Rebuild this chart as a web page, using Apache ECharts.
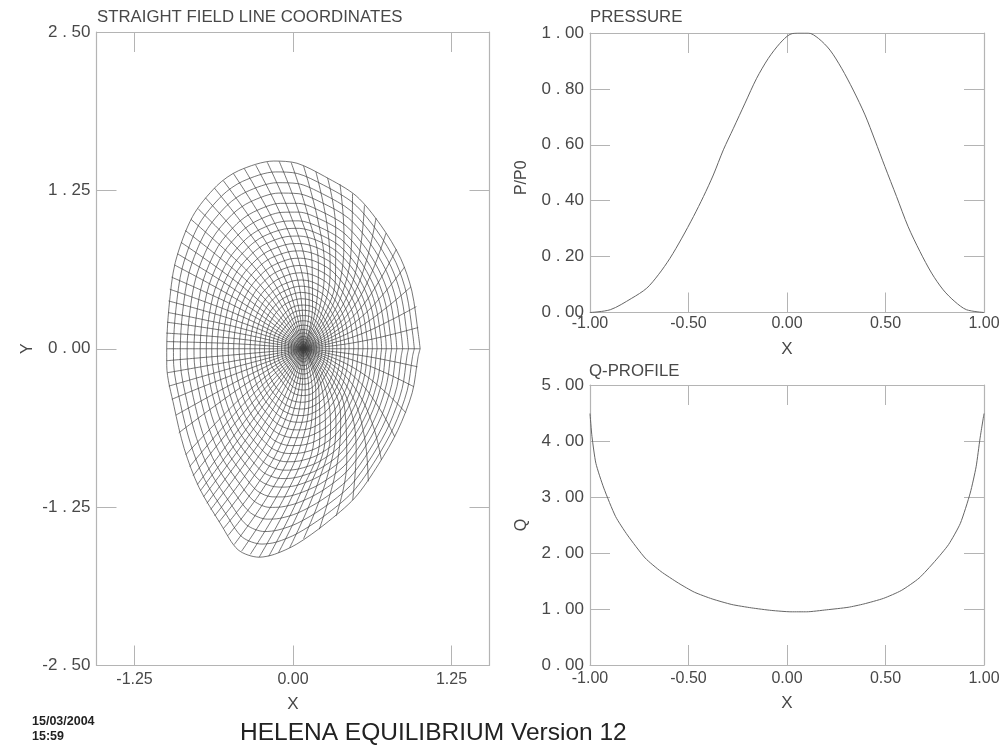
<!DOCTYPE html>
<html><head><meta charset="utf-8">
<script src="https://cdn.jsdelivr.net/npm/echarts@6/dist/echarts.min.js"></script>
<style>html,body{margin:0;padding:0;background:#fff}#c{width:1005px;height:748px}</style>
</head><body><div id="c"></div>
<script>
// Magnetic axis location in data units
const axisX = 0.083, axisY = 0;

// Inner flux rings: radius from the axis along these directions (degrees)
const innerAngles = [0,45,90,135,180,225,270,315];
const innerRings = [
[.011,.013,.017,.014,.013,.014,.018,.013],
[.023,.027,.035,.029,.027,.029,.037,.026],
[.037,.043,.055,.047,.043,.047,.059,.042],
[.051,.059,.076,.064,.059,.064,.081,.058],
[.064,.076,.097,.082,.076,.082,.104,.074],
[.083,.097,.124,.105,.097,.105,.133,.095],
[.101,.119,.152,.129,.119,.129,.163,.116],
[.124,.146,.186,.158,.146,.158,.200,.142],
[.147,.173,.221,.187,.173,.187,.237,.168],
[.175,.205,.262,.222,.205,.222,.281,.200],
[.202,.238,.304,.257,.238,.257,.326,.231],
[.230,.270,.345,.293,.270,.293,.370,.263]
];

// Outer flux rings: radius from the axis along these directions (degrees)
const outerAngles = [0,7,28,43,58,71,83,92,99,110,118,130,146,163,180,187,204,220,233,245,252,258,262,268,277,289,303,319,338,356];
const outerRings = [
[.262,.263,.279,.304,.338,.369,.389,.395,.393,.383,.372,.353,.330,.313,.308,.309,.320,.344,.370,.396,.411,.419,.422,.423,.415,.387,.345,.304,.273,.262],
[.294,.296,.314,.341,.379,.414,.437,.445,.442,.431,.419,.397,.371,.351,.346,.347,.360,.386,.416,.445,.463,.473,.476,.476,.466,.434,.386,.340,.307,.294],
[.327,.327,.347,.378,.419,.459,.485,.494,.492,.479,.466,.442,.412,.391,.383,.384,.399,.428,.462,.495,.515,.525,.529,.528,.516,.480,.427,.377,.340,.326],
[.359,.360,.382,.416,.461,.504,.533,.543,.542,.529,.513,.487,.453,.429,.421,.422,.438,.471,.508,.546,.569,.580,.583,.581,.566,.527,.468,.413,.373,.358],
[.396,.397,.421,.457,.507,.555,.587,.600,.599,.585,.568,.539,.500,.473,.464,.466,.483,.519,.561,.605,.631,.642,.645,.641,.624,.579,.514,.454,.411,.395],
[.432,.434,.460,.500,.554,.607,.642,.658,.657,.642,.623,.591,.548,.517,.508,.509,.527,.568,.614,.664,.694,.706,.708,.703,.680,.631,.559,.495,.448,.431],
[.469,.470,.498,.542,.600,.658,.698,.715,.716,.700,.680,.644,.597,.562,.551,.553,.572,.616,.669,.723,.758,.772,.772,.763,.737,.682,.604,.535,.486,.467],
[.506,.507,.538,.584,.647,.710,.752,.773,.774,.760,.738,.697,.645,.606,.594,.597,.617,.665,.723,.783,.823,.837,.835,.824,.793,.733,.649,.575,.523,.504],
[.543,.544,.576,.626,.692,.761,.807,.831,.834,.819,.795,.752,.694,.650,.637,.640,.662,.714,.777,.845,.889,.904,.901,.886,.849,.782,.693,.614,.560,.540],
[.580,.580,.615,.668,.739,.811,.862,.890,.895,.880,.855,.808,.743,.695,.680,.683,.706,.764,.833,.907,.957,.973,.968,.948,.904,.831,.736,.653,.597,.576],
[.616,.616,.653,.710,.784,.862,.916,.951,.957,.941,.914,.863,.792,.740,.724,.727,.751,.813,.888,.970,1.026,1.042,1.035,1.011,.960,.880,.777,.692,.634,.612],
[.653,.653,.692,.750,.830,.913,.971,1.010,1.018,1.003,.976,.920,.842,.784,.767,.770,.796,.862,.945,1.034,1.098,1.113,1.103,1.074,1.014,.928,.818,.729,.670,.648],
[.695,.693,.735,.797,.880,.969,1.033,1.079,1.090,1.075,1.046,.985,.899,.834,.815,.820,.846,.919,1.008,1.107,1.180,1.195,1.181,1.144,1.075,.980,.864,.771,.710,.689],
[.736,.734,.778,.843,.931,1.027,1.095,1.148,1.162,1.149,1.118,1.051,.957,.884,.864,.868,.896,.975,1.073,1.182,1.264,1.280,1.261,1.216,1.135,1.031,.908,.813,.751,.729],
[.782,.779,.826,.895,.986,1.090,1.163,1.225,1.244,1.233,1.200,1.126,1.021,.940,.918,.923,.951,1.038,1.146,1.268,1.360,1.375,1.352,1.297,1.201,1.088,.955,.857,.795,.773],
[.828,.824,.874,.946,1.041,1.151,1.232,1.304,1.327,1.318,1.283,1.203,1.087,.997,.972,.978,1.008,1.101,1.219,1.354,1.460,1.475,1.445,1.378,1.266,1.141,1.001,.901,.839,.818],
[.874,.869,.921,.997,1.096,1.214,1.301,1.384,1.413,1.406,1.369,1.282,1.152,1.053,1.026,1.032,1.063,1.164,1.295,1.443,1.563,1.576,1.541,1.460,1.331,1.194,1.045,.943,.882,.862],
[.920,.913,.968,1.047,1.150,1.276,1.370,1.465,1.500,1.496,1.457,1.362,1.220,1.110,1.079,1.087,1.118,1.228,1.370,1.535,1.669,1.682,1.638,1.543,1.394,1.244,1.087,.984,.925,.906]
];

// Spokes: direction (degrees) at four stations going outward from the axis
const spokeAngles = [
[0,0,0,0],[5.7,7.3,9.1,10.5],[11.3,14.4,17.9,20.5],[16.8,21.3,26.3,30],[22.3,28,34.3,39],[27.6,34.2,41.5,47],
[33,40.3,48.4,54.5],[38,46,54.5,61],[43,51,60,67],[48,56.5,65.6,72.5],[53,61.5,70.6,77.5],[58,66,75,82],
[63,71,79.5,86],[68,75.5,83.8,90],[73,80,88,93.8],[77.7,84.4,91.8,97.4],[82.5,88.8,95.8,101],[87.4,93.2,99.7,104.6],
[92.2,97.6,103.7,108.2],[97,102,107.6,111.8],[101.9,106.5,111.6,115.5],[106.7,110.9,115.5,119],[111.6,115.5,119.8,123],[116.4,120,124,127],
[121.3,124.6,128.3,131],[126.2,129.2,132.5,135],[131,133.8,136.8,139],[136,138.4,141,143],[140.8,143,145.3,147],[145.8,147.7,149.9,151.5],
[150.7,152.5,154.5,156],[155.7,157.3,159.1,160.5],[160.6,162.1,163.8,165],[165.5,166.7,168,169],[170.4,171.5,172.6,173.5],[175.2,175.8,176.5,177],
[180,180,180,180],[185,185,185,185],[190,190,190,190],[195,195,195.3,195.5],[200,200.3,200.6,201],[205.3,206,206.9,207.5],
[210.5,211.7,213,214],[215.8,217.9,220.3,222],[220.7,222.5,224.5,226],[225.5,226.7,228,229],[230.2,230.8,231.5,232],[234.9,234.6,234.3,234],
[239.5,238.3,237,236],[244.2,242.1,239.8,238],[248.8,245.8,242.5,240],[253.4,249.5,245.3,242],[258.1,253.3,248,244],[262.7,257,250.8,246],
[267.4,260.8,253.5,248],[272.1,264.7,256.6,250.5],[276.8,268.7,259.8,253],[281.5,272.6,262.9,255.5],[286.2,276.6,266,258],[290.9,280.5,269.1,260.5],
[295.6,284.5,272.3,263],[300.3,288.6,275.8,266],[305.2,293.2,280,270],[310.2,298.2,285,275],[315.3,303.6,290.8,281],[320.6,309.5,297.3,288],
[325.9,315.7,304.5,296],[331.4,322.4,312.5,305],[337.1,329.9,322,316],[343,337.9,332.3,328],[348.9,346.2,343.3,341],[354.5,353.3,352,351]
];
// Spokes: radius from the axis at the same four stations
const spokeRadii = [
[.23,.46,.69,.92],[.231,.461,.69,.92],[.234,.47,.705,.95],[.237,.476,.725,.979],[.24,.488,.757,1.026],[.245,.506,.785,1.074],
[.25,.523,.815,1.12],[.26,.542,.855,1.18],[.267,.562,.887,1.23],[.277,.582,.917,1.285],[.287,.604,.96,1.33],[.297,.62,.98,1.362],
[.308,.645,1.008,1.40],[.318,.66,1.03,1.444],[.327,.675,1.05,1.474],[.333,.687,1.07,1.492],[.34,.693,1.075,1.50],[.344,.70,1.08,1.498],
[.345,.70,1.075,1.497],[.343,.697,1.07,1.49],[.34,.69,1.063,1.47],[.336,.684,1.048,1.45],[.33,.672,1.03,1.42],[.325,.66,1.01,1.386],
[.32,.647,.985,1.354],[.312,.633,.965,1.32],[.306,.62,.94,1.28],[.30,.605,.92,1.245],[.294,.593,.897,1.215],[.288,.58,.88,1.185],
[.284,.572,.86,1.155],[.28,.562,.843,1.13],[.276,.554,.827,1.105],[.274,.549,.822,1.097],[.272,.546,.816,1.09],[.271,.543,.812,1.08],
[.27,.54,.809,1.079],[.271,.542,.813,1.085],[.272,.544,.817,1.09],[.276,.552,.828,1.103],[.279,.557,.835,1.113],[.282,.566,.853,1.135],
[.288,.582,.881,1.187],[.295,.594,.914,1.25],[.301,.615,.933,1.293],[.309,.628,.958,1.328],[.317,.645,.985,1.36],[.326,.663,1.012,1.384],
[.335,.678,1.033,1.41],[.343,.697,1.045,1.438],[.35,.713,1.077,1.465],[.357,.731,1.102,1.494],[.363,.747,1.134,1.521],[.367,.755,1.16,1.554],
[.37,.757,1.175,1.59],[.368,.753,1.184,1.64],[.366,.746,1.18,1.67],[.357,.734,1.17,1.676],[.349,.723,1.148,1.682],[.337,.707,1.127,1.66],
[.326,.69,1.10,1.622],[.313,.67,1.077,1.575],[.30,.65,1.045,1.50],[.284,.62,.99,1.43],[.272,.59,.96,1.345],[.266,.56,.905,1.255],
[.256,.538,.85,1.165],[.25,.516,.805,1.07],[.241,.495,.755,1.00],[.237,.476,.722,.95],[.234,.466,.70,.92],[.23,.462,.693,.91]
];

// Pressure profile
const pressureX = [-1,-.897,-.788,-.712,-.653,-.594,-.534,-.475,-.424,-.374,-.323,-.272,-.213,-.154,-.095,-.036,.015,.066,.108,.159,.218,.277,.336,.396,.446,.497,.556,.615,.675,.734,.793,.852,.911,1];
const pressureY = [0,.01,.051,.087,.135,.194,.266,.343,.415,.492,.582,.659,.749,.838,.909,.963,.995,1,1,.981,.939,.874,.796,.707,.617,.522,.415,.307,.218,.141,.081,.039,.01,0];

// Q profile
const qX = [-1,-.99,-.97,-.93,-.87,-.81,-.72,-.64,-.55,-.47,-.38,-.28,-.18,-.08,.02,.10,.2,.31,.39,.49,.58,.67,.75,.82,.88,.93,.96,.98,1];
const qY = [4.49,4.08,3.60,3.16,2.65,2.32,1.91,1.67,1.46,1.30,1.18,1.08,1.02,.975,.95,.95,.985,1.03,1.09,1.19,1.33,1.55,1.85,2.15,2.53,3.07,3.54,4.05,4.49];

// Tick values and labels
const meshXTicks = [-1.25,0,1.25];
const meshXLabels = ['-1.25','0.00','1.25'];
const meshYTicks = [-2.5,-1.25,0,1.25,2.5];
const meshYLabels = ['-2 . 50','-1 . 25','0 . 00','1 . 25','2 . 50'];
const profileXTicks = [-1,-.5,0,.5,1];
const profileXLabels = ['-1.00','-0.50','0.00','0.50','1.00'];
const pressureYTicks = [0,.2,.4,.6,.8,1];
const pressureYLabels = ['0 . 00','0 . 20','0 . 40','0 . 60','0 . 80','1 . 00'];
const qYTicks = [0,1,2,3,4,5];
const qYLabels = ['0 . 00','1 . 00','2 . 00','3 . 00','4 . 00','5 . 00'];

const polar = (r,deg) => [axisX + r*Math.cos(deg*Math.PI/180), axisY + r*Math.sin(deg*Math.PI/180)];
const FONT = 'Liberation Sans';
const frame = '#b4b4b4', ink = '#484848';
const labelFor = (ticks,labels) => v => labels[ticks.findIndex(t=>Math.abs(t-v)<1e-6)];

function xAxisPair(grid,min,max,ticks,labels,nameGap,margin){
  const base = {gridIndex:grid,type:'value',min,max,splitLine:{show:false},
    axisLine:{show:true,onZero:false,lineStyle:{color:frame,width:1}}};
  return [
    {...base,position:'bottom',name:'X',nameLocation:'middle',nameGap,
      nameTextStyle:{fontFamily:FONT,fontSize:17,color:ink},
      axisTick:{show:true,inside:true,length:20,customValues:ticks,lineStyle:{color:frame}},
      axisLabel:{show:true,margin,customValues:ticks,fontFamily:FONT,fontSize:16,color:ink,hideOverlap:false,
        showMinLabel:true,showMaxLabel:true,formatter:labelFor(ticks,labels)}},
    {...base,position:'top',
      axisTick:{show:true,inside:true,length:20,customValues:ticks,lineStyle:{color:frame}},
      axisLabel:{show:false}}
  ];
}
function yAxisPair(grid,min,max,ticks,labels,name,nameGap,namePad){
  const base = {gridIndex:grid,type:'value',min,max,splitLine:{show:false},
    axisLine:{show:true,onZero:false,lineStyle:{color:frame,width:1.2}}};
  return [
    {...base,position:'left',name,nameLocation:'middle',nameGap,nameRotate:90,
      nameTextStyle:{fontFamily:FONT,fontSize:16,color:ink,padding:namePad},
      axisTick:{show:true,inside:true,length:20,customValues:ticks,lineStyle:{color:frame}},
      axisLabel:{show:true,margin:6,customValues:ticks,fontFamily:FONT,fontSize:17,color:ink,hideOverlap:false,
        showMinLabel:true,showMaxLabel:true,formatter:labelFor(ticks,labels)}},
    {...base,position:'right',
      axisTick:{show:true,inside:true,length:20,customValues:ticks,lineStyle:{color:frame}},
      axisLabel:{show:false}}
  ];
}

const meshStyle = {color:'#3c3c3c',width:0.7};
const meshLine = (data,smooth) => ({type:'line',xAxisIndex:0,yAxisIndex:0,data,smooth,symbol:'none',
  lineStyle:meshStyle,silent:true,animation:false,clip:true});

const series = [];
innerRings.forEach(row=>{
  const pts = row.map((r,j)=>polar(r,innerAngles[j])); pts.push(pts[0]);
  series.push(meshLine(pts,0.5));
});
outerRings.forEach(row=>{
  const pts = row.map((r,j)=>polar(r,outerAngles[j])); pts.push(pts[0]);
  series.push(meshLine(pts,0.3));
});
spokeAngles.forEach((row,k)=>{
  const pts = [[axisX,axisY]].concat(row.map((a,j)=>polar(spokeRadii[k][j],a)));
  series.push(meshLine(pts,0.4));
});
const curveStyle = {color:'#666666',width:1};
series.push({type:'line',xAxisIndex:2,yAxisIndex:2,data:pressureX.map((x,i)=>[x,pressureY[i]]),smooth:0.3,symbol:'none',lineStyle:curveStyle,animation:false});
series.push({type:'line',xAxisIndex:4,yAxisIndex:4,data:qX.map((x,i)=>[x,qY[i]]),smooth:0.2,symbol:'none',lineStyle:curveStyle,animation:false});

const titleStyle = {fontFamily:FONT,fontSize:16.8,fontWeight:'normal',color:ink};
const stamp = {fontFamily:FONT,fontSize:12.5,fontWeight:'bold',color:'#222'};
const option = {
  backgroundColor:'#fff',animation:false,
  title:[
    {text:'STRAIGHT FIELD LINE COORDINATES',left:97,top:9,padding:0,textStyle:titleStyle},
    {text:'PRESSURE',left:590,top:9,padding:0,textStyle:titleStyle},
    {text:'Q-PROFILE',left:589,top:363,padding:0,textStyle:titleStyle},
    {text:'15/03/2004',left:32,top:715,padding:0,textStyle:stamp},
    {text:'15:59',left:32,top:730,padding:0,textStyle:stamp},
    {text:'HELENA EQUILIBRIUM Version 12',left:240,top:721,padding:0,textStyle:{fontFamily:FONT,fontSize:24.5,fontWeight:'normal',color:'#222'}}
  ],
  grid:[
    {left:96.5,top:32,width:393,height:633.5},
    {left:590,top:33,width:394,height:279.5},
    {left:590,top:385,width:394,height:280}
  ],
  xAxis:[
    ...xAxisPair(0,-1.55,1.55,meshXTicks,meshXLabels,30,6),
    ...xAxisPair(1,-1,1,profileXTicks,profileXLabels,28,3),
    ...xAxisPair(2,-1,1,profileXTicks,profileXLabels,30,6)
  ],
  yAxis:[
    ...yAxisPair(0,-2.5,2.5,meshYTicks,meshYLabels,'Y',61,0),
    ...yAxisPair(1,0,1,pressureYTicks,pressureYLabels,'P/P0',60,[0,10,0,0]),
    ...yAxisPair(2,0,5,qYTicks,qYLabels,'Q',60,0)
  ],
  series
};
echarts.init(document.getElementById('c'),null,{renderer:'canvas'}).setOption(option);
</script></body></html>
